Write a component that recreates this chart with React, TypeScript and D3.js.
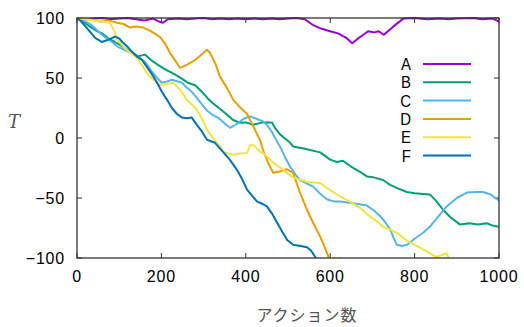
import React from "react";
import * as d3 from "d3";

// series: [actions, T]
const seriesNames = ["A", "B", "C", "D", "E", "F"];
const seriesColors = ["#9400d3", "#009e73", "#56b4e9", "#e69f00", "#f0e442", "#0072b2"];

const seriesA: [number, number][] = [
  [0, 100], [20, 99], [40, 99.5], [60, 100], [80, 99], [100, 99.5], [120, 100], [140, 99], [160, 98],
  [180, 99.5], [195, 97], [204, 96], [215, 99], [240, 99.5], [260, 99], [280, 99.5], [300, 100], [320, 99],
  [340, 99.5], [360, 99], [380, 99.5], [400, 99], [420, 99.5], [440, 99], [460, 99.5], [480, 99],
  [500, 99.5], [520, 100], [540, 99], [560, 94], [580, 91], [600, 89], [620, 87], [640, 83], [652, 79],
  [670, 84], [690, 89], [705, 88], [715, 89], [727, 86], [750, 93], [773, 99.5], [800, 100], [830, 99],
  [860, 99.5], [880, 99], [900, 99.5], [940, 100], [960, 99], [985, 99.5], [1000, 97],
];
const seriesB: [number, number][] = [
  [0, 100], [15, 97], [30, 93], [43, 90], [60, 87], [74, 83], [90, 80], [114, 75], [130, 71], [145, 68],
  [161, 69.5], [175, 65], [192, 61], [210, 57], [232, 53], [250, 49], [263, 46], [280, 44], [296, 38.5],
  [310, 33], [322, 29], [340, 24], [355, 19.5], [370, 15], [386, 12.7], [400, 13], [417, 11], [440, 13],
  [462, 13], [470, 8], [481, 3], [495, -1], [505, -4], [512, -7], [540, -9], [576, -12], [600, -18],
  [616, -20], [630, -19], [650, -24], [670, -28], [687, -32], [705, -33], [725, -35], [742, -39],
  [760, -42], [782, -45], [800, -46], [836, -47], [850, -52], [868, -60], [885, -66], [907, -72],
  [930, -71], [950, -72], [971, -71], [985, -73], [1000, -74],
];
const seriesC: [number, number][] = [
  [0, 100], [15, 98], [35, 94], [50, 89], [59, 86], [70, 83], [83, 80], [97, 76], [115, 73], [137, 69.5],
  [161, 63.5], [178, 55], [190, 50], [201, 46], [212, 47], [225, 48.5], [249, 46], [260, 42], [272, 38.5],
  [285, 33], [296, 28], [308, 23], [320, 19.5], [334, 17], [350, 12], [363, 8.5], [380, 12], [395, 16],
  [410, 18], [425, 16], [440, 14], [450, 11], [462, 5], [474, -3], [481, -7], [493, -16], [505, -24],
  [517, -30], [528, -35], [545, -38], [560, -40.5], [575, -46], [592, -51], [610, -53], [623, -53],
  [647, -54], [665, -55], [685, -56], [702, -60], [718, -65], [730, -70], [742, -76], [750, -83],
  [758, -89], [770, -90], [782, -89], [800, -84], [820, -79], [836, -74], [855, -66], [876, -57],
  [900, -50], [924, -45.5], [945, -45], [962, -45], [980, -47], [995, -51], [1000, -52],
];
const seriesD: [number, number][] = [
  [0, 100], [30, 99], [55, 97], [75, 98], [95, 96], [110, 95], [126, 92], [140, 93], [157, 92], [175, 89],
  [197, 84], [210, 78], [220, 71], [228, 67], [244, 58.5], [260, 61], [280, 65], [300, 71], [308, 73.5],
  [315, 71], [328, 62], [339, 51], [355, 42], [370, 32], [385, 26], [403, 20], [420, 8], [434, -2],
  [441, -10], [452, -20], [465, -29], [480, -28], [497, -26], [512, -29], [528, -45], [545, -60],
  [560, -71], [576, -82], [588, -92], [596, -99], [605, -103], [610, -100], [615, -103], [625, -100],
  [630, -104],
];
const seriesE: [number, number][] = [
  [0, 100], [20, 99], [40, 98], [60, 97], [78, 96], [90, 88], [95, 82], [105, 78], [118, 73.5], [130, 70],
  [142, 67], [155, 60], [166, 54], [180, 49], [197, 44], [212, 45], [228, 46], [245, 40], [260, 32],
  [272, 28], [284, 23.5], [296, 16], [308, 7], [320, 1], [339, -7], [346, -11.5], [360, -13], [370, -14],
  [385, -13], [403, -12.5], [410, -6], [417, -5.5], [434, -11.5], [441, -12.5], [455, -17], [465, -20.5],
  [490, -27], [512, -33], [530, -35], [545, -36.5], [560, -37], [576, -37.5], [590, -41], [607, -45],
  [625, -49], [647, -53], [670, -58], [694, -65.5], [710, -69], [725, -74], [740, -76], [758, -79],
  [775, -84], [789, -87], [810, -91], [829, -94.5], [845, -98], [853, -99], [868, -97], [876, -96],
  [882, -101],
];
const seriesF: [number, number][] = [
  [0, 100], [10, 97], [20, 93], [32, 88], [43, 83.5], [59, 80], [75, 82], [90, 84.5], [100, 83],
  [107, 80], [120, 76], [130, 72], [142, 68], [154, 65], [166, 59], [178, 53], [190, 46], [201, 38.5],
  [213, 32], [225, 25], [237, 20], [249, 17], [260, 16.5], [272, 17], [284, 11], [296, 5.5], [308, -1.5],
  [327, -4], [346, -11.5], [362, -18], [379, -26.5], [391, -34], [403, -43], [417, -49], [427, -53],
  [440, -55], [450, -57], [462, -63], [474, -70.5], [486, -78], [498, -85], [512, -89], [530, -90],
  [545, -91], [555, -94], [564, -99], [572, -103],
];
const allSeries = [seriesA, seriesB, seriesC, seriesD, seriesE, seriesF];

const xTicks = [0, 200, 400, 600, 800, 1000];
const yTicks = [-100, -50, 0, 50, 100];

const W = 524;
const H = 327;
const margin = { left: 77, right: 25, top: 18, bottom: 69 };

export default function App() {
  const x = d3.scaleLinear().domain([0, 1000]).range([margin.left, W - margin.right]);
  const y = d3.scaleLinear().domain([-100, 100]).range([H - margin.bottom, margin.top]);
  const line = d3
    .line<[number, number]>()
    .x((d) => x(d[0]))
    .y((d) => y(d[1]));

  const x0 = x(0), x1 = x(1000), y0 = y(-100), y1 = y(100);
  const tickLen = 5;
  const frame = "#333";
  const font = "'Liberation Sans', Arial, sans-serif";

  return (
    <svg
      width={W}
      height={H}
      style={{ position: "absolute", left: 0, top: 0, background: "#fff" }}
    >
      <defs>
        <clipPath id="plot">
          <rect x={x0} y={y1 - 2} width={x1 - x0} height={y0 - y1 + 2} />
        </clipPath>
      </defs>

      {/* ticks, mirrored on all sides */}
      <g stroke={frame} strokeWidth={1}>
        {xTicks.map((t) => (
          <g key={"xt" + t}>
            <line x1={x(t)} x2={x(t)} y1={y0} y2={y0 - tickLen} />
            <line x1={x(t)} x2={x(t)} y1={y1} y2={y1 + tickLen} />
          </g>
        ))}
        {yTicks.map((t) => (
          <g key={"yt" + t}>
            <line x1={x0} x2={x0 + tickLen} y1={y(t)} y2={y(t)} />
            <line x1={x1} x2={x1 - tickLen} y1={y(t)} y2={y(t)} />
          </g>
        ))}
      </g>

      {/* tick labels */}
      <g fontFamily={font} fontSize={16} fill="#000">
        {xTicks.map((t) => (
          <text key={"xl" + t} x={x(t)} y={y0 + 24} textAnchor="middle" letterSpacing={0.8}>
            {t}
          </text>
        ))}
        {yTicks.map((t) => (
          <text key={"yl" + t} x={x0 - 12} y={y(t)} dy="0.36em" textAnchor="end" letterSpacing={0.8}>
            {t < 0 ? "\u2212" + Math.abs(t) : t}
          </text>
        ))}
      </g>

      {/* series */}
      <g clipPath="url(#plot)" fill="none" strokeWidth={2} strokeLinejoin="round">
        {allSeries.map((s, i) => (
          <path key={seriesNames[i]} d={line(s) ?? ""} stroke={seriesColors[i]} />
        ))}
      </g>

      {/* frame */}
      <rect x={x0} y={y1} width={x1 - x0} height={y0 - y1} fill="none" stroke={frame} strokeWidth={1.3} />

      {/* legend */}
      <g>
        {seriesNames.map((n, i) => {
          const ly = 64 + i * 18.3;
          return (
            <g key={"lg" + n}>
              <text
                transform={`translate(411,${ly}) scale(0.88,1)`}
                dy="0.36em"
                textAnchor="end"
                fontFamily={font}
                fontSize={17}
                fill="#000"
              >
                {n}
              </text>
              <line x1={423} x2={471} y1={ly} y2={ly} stroke={seriesColors[i]} strokeWidth={2} />
            </g>
          );
        })}
      </g>

      {/* axis titles */}
      <text x={14} y={128} textAnchor="middle" fontFamily="'DejaVu Serif', 'Liberation Serif', serif" fontStyle="italic" fontSize={18} fill="#555">
        T
      </text>
      <text x={307} y={321} textAnchor="middle" fontFamily="'Noto Sans CJK JP', sans-serif" fontSize={16} fill="#555" letterSpacing={1}>
        アクション数
      </text>
    </svg>
  );
}
